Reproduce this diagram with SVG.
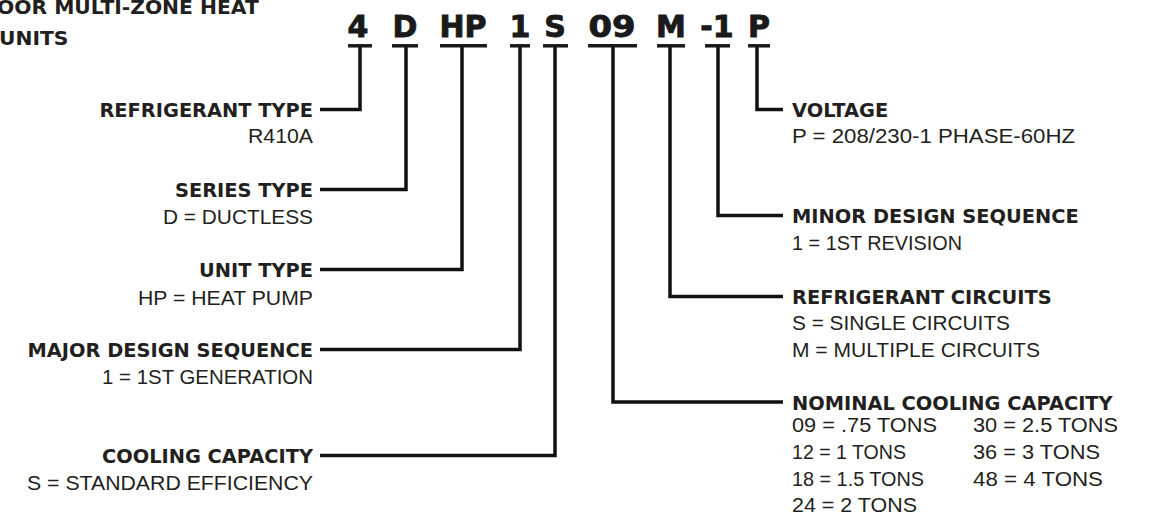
<svg xmlns="http://www.w3.org/2000/svg" width="1150" height="518" viewBox="0 0 1150 518">
<style>
.bg{fill:#ffffff}
.code{font-family:"DejaVu Sans","Liberation Sans",sans-serif;font-weight:bold;font-size:30px;fill:#1a1a1a;stroke:#1a1a1a;stroke-width:0.9px;text-anchor:middle}
.bar{stroke:#1a1a1a;stroke-width:3.5;fill:none}
.lbl{font-family:"DejaVu Sans","Liberation Sans",sans-serif;font-weight:bold;font-size:19.4px;fill:#231f20}
.sub{font-family:"Liberation Sans","Arial",sans-serif;font-weight:normal;font-size:19.5px;fill:#231f20}
.title{font-family:"DejaVu Sans","Liberation Sans",sans-serif;font-weight:bold;font-size:20.3px;fill:#231f20}
.l{text-anchor:end}
.r{text-anchor:start}
.conn path{stroke:#111111;stroke-width:3.5;fill:none;stroke-linejoin:miter;stroke-linecap:butt}
</style>
<rect class="bg" x="0" y="0" width="1150" height="518"/>

<g id="title">
<text class="title" x="-3" y="13.5">OOR MULTI-ZONE HEAT</text>
<text class="title" x="-1" y="45">UNITS</text>
</g>

<g id="connectors" class="conn">
<path d="M360 46 V109.5 H320"/>
<path d="M406 46 V189.5 H320"/>
<path d="M462 46 V269.5 H320"/>
<path d="M520 46 V349.5 H320"/>
<path d="M555 46 V455.5 H320"/>
<path d="M613 46 V402 H783"/>
<path d="M670 46 V296.5 H783"/>
<path d="M718 46 V215.5 H783"/>
<path d="M757 46 V109.5 H783"/>
</g>

<g id="node-refrigerant-type">
<text class="code" x="358" y="37">4</text>
<line class="bar" x1="348" y1="45.8" x2="372" y2="45.8"/>
<text class="lbl l" x="313" y="117">REFRIGERANT TYPE</text>
<text class="sub l" x="313" y="143" textLength="65" lengthAdjust="spacingAndGlyphs">R410A</text>
</g>

<g id="node-series-type">
<text class="code" x="405" y="37">D</text>
<line class="bar" x1="392" y1="45.8" x2="418" y2="45.8"/>
<text class="lbl l" x="313" y="197">SERIES TYPE</text>
<text class="sub l" x="313" y="224" textLength="150" lengthAdjust="spacingAndGlyphs">D = DUCTLESS</text>
</g>

<g id="node-unit-type">
<text class="code" x="463" y="37">HP</text>
<line class="bar" x1="440" y1="45.8" x2="487" y2="45.8"/>
<text class="lbl l" x="313" y="277">UNIT TYPE</text>
<text class="sub l" x="313" y="305" textLength="175" lengthAdjust="spacingAndGlyphs">HP = HEAT PUMP</text>
</g>

<g id="node-major-design-sequence">
<text class="code" x="520" y="37">1</text>
<line class="bar" x1="510" y1="45.8" x2="530" y2="45.8"/>
<text class="lbl l" x="313" y="357">MAJOR DESIGN SEQUENCE</text>
<text class="sub l" x="313" y="384" textLength="211" lengthAdjust="spacingAndGlyphs">1 = 1ST GENERATION</text>
</g>

<g id="node-cooling-capacity">
<text class="code" x="555" y="37">S</text>
<line class="bar" x1="543" y1="45.8" x2="568" y2="45.8"/>
<text class="lbl l" x="313" y="463">COOLING CAPACITY</text>
<text class="sub l" x="313" y="490" textLength="286" lengthAdjust="spacingAndGlyphs">S = STANDARD EFFICIENCY</text>
</g>

<g id="node-nominal-cooling-capacity">
<text class="code" x="612" y="37" textLength="47" lengthAdjust="spacingAndGlyphs">09</text>
<line class="bar" x1="588" y1="45.8" x2="637" y2="45.8"/>
<text class="lbl r" x="792" y="410">NOMINAL COOLING CAPACITY</text>
<text class="sub r" x="792" y="432" textLength="145" lengthAdjust="spacingAndGlyphs">09 = .75 TONS</text>
<text class="sub r" x="792" y="459" textLength="114" lengthAdjust="spacingAndGlyphs">12 = 1 TONS</text>
<text class="sub r" x="792" y="486" textLength="132" lengthAdjust="spacingAndGlyphs">18 = 1.5 TONS</text>
<text class="sub r" x="792" y="512" textLength="125" lengthAdjust="spacingAndGlyphs">24 = 2 TONS</text>
<text class="sub r" x="973" y="432" textLength="145" lengthAdjust="spacingAndGlyphs">30 = 2.5 TONS</text>
<text class="sub r" x="973" y="459" textLength="127" lengthAdjust="spacingAndGlyphs">36 = 3 TONS</text>
<text class="sub r" x="973" y="486" textLength="130" lengthAdjust="spacingAndGlyphs">48 = 4 TONS</text>
</g>

<g id="node-refrigerant-circuits">
<text class="code" x="671" y="37">M</text>
<line class="bar" x1="657" y1="45.8" x2="685" y2="45.8"/>
<text class="lbl r" x="792" y="304">REFRIGERANT CIRCUITS</text>
<text class="sub r" x="792" y="330" textLength="218" lengthAdjust="spacingAndGlyphs">S = SINGLE CIRCUITS</text>
<text class="sub r" x="792" y="357" textLength="248" lengthAdjust="spacingAndGlyphs">M = MULTIPLE CIRCUITS</text>
</g>

<g id="node-minor-design-sequence">
<text class="code" x="717" y="37">-1</text>
<line class="bar" x1="705" y1="45.8" x2="730" y2="45.8"/>
<text class="lbl r" x="792" y="223">MINOR DESIGN SEQUENCE</text>
<text class="sub r" x="792" y="250" textLength="170" lengthAdjust="spacingAndGlyphs">1 = 1ST REVISION</text>
</g>

<g id="node-voltage">
<text class="code" x="759" y="37">P</text>
<line class="bar" x1="748" y1="45.8" x2="770" y2="45.8"/>
<text class="lbl r" x="792" y="117">VOLTAGE</text>
<text class="sub r" x="792" y="143" textLength="283" lengthAdjust="spacingAndGlyphs">P = 208/230-1 PHASE-60HZ</text>
</g>
</svg>
